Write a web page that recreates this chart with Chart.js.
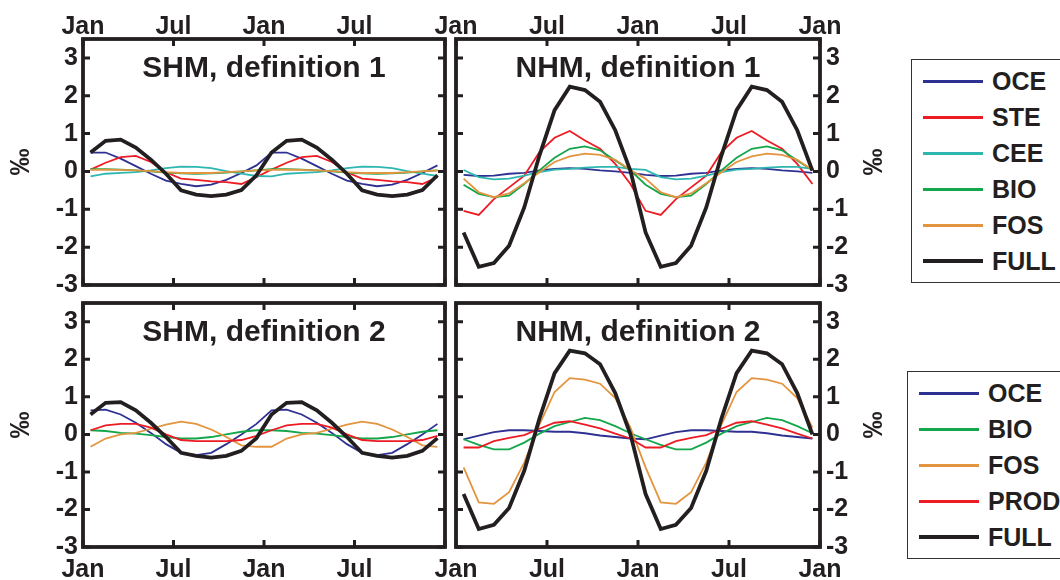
<!DOCTYPE html>
<html lang="en">
<head>
  <meta charset="UTF-8" />
  <title>Seasonal cycles, SHM / NHM</title>
  <script src="https://cdn.jsdelivr.net/npm/chart.js"></script>
  <style>
    body {
      margin: 0;
      width: 1060px;
      height: 580px;
      overflow: hidden;
      background: #fff;
      position: relative;
      font-family: "Liberation Sans", Arial, sans-serif;
    }
    .panel { position: absolute; }
    .legend {
      position: absolute;
      border: 1.5px solid #333;
      background: #fff;
    }
    .legend .row {
      position: absolute;
      left: 0;
      height: 36px;
      display: flex;
      align-items: center;
      white-space: nowrap;
    }
    .legend .swatch { width: 60px; margin-left: 11px; }
    .legend .name {
      margin-left: 9px;
      font-size: 25px;
      font-weight: bold;
      color: #231f20;
    }
  </style>
</head>
<body>
  <div class="panel" style="left:0;top:0"><canvas id="shm1" width="470" height="292"></canvas></div>
  <div class="panel" style="left:400px;top:0"><canvas id="nhm1" width="490" height="292"></canvas></div>
  <div class="panel" style="left:0;top:295px"><canvas id="shm2" width="470" height="285"></canvas></div>
  <div class="panel" style="left:400px;top:295px"><canvas id="nhm2" width="490" height="285"></canvas></div>
  <div class="legend" id="legend1" style="left:911px;top:59px;width:170px;height:222px"></div>
  <div class="legend" id="legend2" style="left:907px;top:371px;width:170px;height:186px"></div>

  <script>
    // monthly values (per mille), one climatological year, shown twice
    const months = ['Jan','Feb','Mar','Apr','May','Jun','Jul','Aug','Sep','Oct','Nov','Dec'];
    const monthTicks = [0, 6, 12, 18, 24];
    const leftTickLabels = ['Jan', 'Jul', 'Jan', 'Jul', ''];
    const rightTickLabels = ['Jan', 'Jul', 'Jan', 'Jul', 'Jan'];
    const yTicks = [-3, -2, -1, 0, 1, 2, 3];

    const names1 = ['OCE', 'STE', 'CEE', 'BIO', 'FOS', 'FULL'];
    const names2 = ['OCE', 'BIO', 'FOS', 'PROD', 'FULL'];

    // SHM, definition 1
    const shm1Oce  = [0.50, 0.50, 0.34, 0.14, -0.06, -0.24, -0.33, -0.39, -0.35, -0.22, -0.04, 0.16];
    const shm1Ste  = [0.05, 0.23, 0.38, 0.41, 0.25, -0.02, -0.19, -0.22, -0.26, -0.28, -0.33, -0.15];
    const shm1Cee  = [-0.13, -0.06, -0.04, -0.02, 0.03, 0.09, 0.13, 0.12, 0.09, 0.01, -0.06, -0.12];
    const shm1Bio  = [0.06, 0.06, 0.05, 0.03, 0.00, -0.03, -0.05, -0.06, -0.05, -0.03, 0.00, 0.03];
    const shm1Fos  = [0.04, 0.05, 0.04, 0.03, 0.01, -0.02, -0.04, -0.04, -0.04, -0.02, 0.00, 0.03];
    const shm1Full = [0.50, 0.81, 0.84, 0.63, 0.31, -0.06, -0.50, -0.61, -0.65, -0.61, -0.49, -0.10];

    // NHM, definition 1
    const nhm1Oce  = [-0.09, -0.12, -0.11, -0.06, -0.04, 0.03, 0.07, 0.09, 0.07, 0.03, 0.00, -0.04];
    const nhm1Ste  = [-1.04, -1.15, -0.73, -0.42, -0.11, 0.51, 0.89, 1.07, 0.82, 0.60, 0.20, -0.33];
    const nhm1Cee  = [0.04, -0.15, -0.21, -0.19, -0.11, -0.02, 0.05, 0.07, 0.10, 0.12, 0.12, 0.07];
    const nhm1Bio  = [-0.35, -0.59, -0.68, -0.64, -0.33, 0.03, 0.36, 0.60, 0.66, 0.56, 0.29, 0.03];
    const nhm1Fos  = [-0.19, -0.55, -0.68, -0.58, -0.31, -0.02, 0.25, 0.40, 0.47, 0.44, 0.31, 0.04];
    const nhm1Full = [-1.61, -2.52, -2.42, -1.96, -0.95, 0.42, 1.62, 2.24, 2.15, 1.84, 1.09, 0.02];

    // SHM, definition 2
    const shm2Oce  = [0.64, 0.66, 0.53, 0.31, 0.04, -0.26, -0.49, -0.55, -0.49, -0.26, 0.00, 0.28];
    const shm2Bio  = [0.11, 0.09, 0.04, 0.02, -0.02, -0.07, -0.11, -0.11, -0.07, 0.00, 0.07, 0.11];
    const shm2Fos  = [-0.33, -0.11, 0.00, 0.04, 0.15, 0.26, 0.34, 0.28, 0.13, -0.07, -0.29, -0.33];
    const shm2Prod = [0.11, 0.24, 0.28, 0.28, 0.18, 0.00, -0.15, -0.18, -0.18, -0.18, -0.15, -0.04];
    const shm2Full = [0.53, 0.84, 0.86, 0.64, 0.31, -0.07, -0.49, -0.57, -0.62, -0.57, -0.44, -0.10];

    // NHM, definition 2
    const nhm2Oce  = [-0.13, -0.03, 0.06, 0.11, 0.11, 0.09, 0.07, 0.07, 0.03, -0.03, -0.07, -0.11];
    const nhm2Bio  = [-0.13, -0.28, -0.40, -0.40, -0.22, 0.02, 0.22, 0.33, 0.44, 0.38, 0.22, 0.03];
    const nhm2Fos  = [-0.88, -1.81, -1.85, -1.54, -0.75, 0.26, 1.13, 1.50, 1.46, 1.35, 0.97, 0.18];
    const nhm2Prod = [-0.35, -0.35, -0.18, -0.09, -0.02, 0.15, 0.31, 0.35, 0.26, 0.16, 0.02, -0.11];
    const nhm2Full = [-1.59, -2.52, -2.41, -1.96, -0.97, 0.42, 1.63, 2.23, 2.16, 1.87, 1.10, 0.00];

    const colors = {
      OCE: '#2e3192', STE: '#ed1c24', PROD: '#ed1c24', CEE: '#2db7b0',
      BIO: '#14a64a', FOS: '#e3943f', FULL: '#231f20'
    };
    const ink = '#231f20';
    const fontFamily = '"Liberation Sans", Arial, sans-serif';

    // mid-month points over two years
    function toPoints(vals) {
      const pts = [];
      for (let yr = 0; yr < 2; yr++) {
        months.forEach((m, i) => pts.push({ x: yr * 12 + i + 0.5, y: vals[i] }));
      }
      return pts;
    }

    const framePlugin = {
      id: 'frame',
      afterDraw(chart, args, opts) {
        const { ctx, chartArea: a } = chart;
        const x = chart.scales.x, y = chart.scales.y;
        ctx.save();
        ctx.strokeStyle = ink;
        ctx.lineWidth = 3.8;
        ctx.strokeRect(a.left, a.top, a.right - a.left, a.bottom - a.top);
        ctx.lineWidth = 3;
        ctx.beginPath();
        monthTicks.forEach(v => {
          const px = x.getPixelForValue(v);
          ctx.moveTo(px, a.top); ctx.lineTo(px, a.top + 7);
          ctx.moveTo(px, a.bottom); ctx.lineTo(px, a.bottom - 7);
        });
        yTicks.forEach(v => {
          const py = y.getPixelForValue(v);
          ctx.moveTo(a.left, py); ctx.lineTo(a.left + 7, py);
          ctx.moveTo(a.right, py); ctx.lineTo(a.right - 7, py);
        });
        ctx.stroke();

        ctx.fillStyle = ink;
        ctx.font = 'bold 30px ' + fontFamily;
        ctx.textAlign = 'center';
        ctx.textBaseline = 'alphabetic';
        ctx.fillText(opts.title, (a.left + a.right) / 2, a.top + 38);

        ctx.translate(opts.unitX, (a.top + a.bottom) / 2);
        ctx.rotate(-Math.PI / 2);
        ctx.font = 'bold 27px ' + fontFamily;
        ctx.textBaseline = 'middle';
        ctx.fillText('‰', 0, 0);
        ctx.restore();
      }
    };

    const panels = [
      { id: 'shm1', title: 'SHM, definition 1', names: names1,
        series: [shm1Oce, shm1Ste, shm1Cee, shm1Bio, shm1Fos, shm1Full],
        xPos: 'top', yPos: 'left', labels: leftTickLabels,
        pad: { left: 0, right: 25, top: 0, bottom: 7 }, unitX: 22 },
      { id: 'nhm1', title: 'NHM, definition 1', names: names1,
        series: [nhm1Oce, nhm1Ste, nhm1Cee, nhm1Bio, nhm1Fos, nhm1Full],
        xPos: 'top', yPos: 'right', labels: rightTickLabels,
        pad: { left: 56, right: 0, top: 0, bottom: 7 }, unitX: 475 },
      { id: 'shm2', title: 'SHM, definition 2', names: names2,
        series: [shm2Oce, shm2Bio, shm2Fos, shm2Prod, shm2Full],
        xPos: 'bottom', yPos: 'left', labels: leftTickLabels,
        pad: { left: 0, right: 25, top: 8, bottom: 0 }, unitX: 22 },
      { id: 'nhm2', title: 'NHM, definition 2', names: names2,
        series: [nhm2Oce, nhm2Bio, nhm2Fos, nhm2Prod, nhm2Full],
        xPos: 'bottom', yPos: 'right', labels: rightTickLabels,
        pad: { left: 56, right: 0, top: 8, bottom: 0 }, unitX: 475 }
    ];

    const tickFont = { family: fontFamily, size: 25, weight: 'bold' };

    panels.forEach(p => {
      const ctx = document.getElementById(p.id).getContext('2d');
      new Chart(ctx, {
        type: 'line',
        data: {
          datasets: p.names.map((n, i) => ({
            label: n,
            data: toPoints(p.series[i]),
            borderColor: colors[n],
            borderWidth: n === 'FULL' ? 3.8 : 1.8,
            pointRadius: 0,
            tension: 0,
            fill: false,
            order: p.names.length - i
          }))
        },
        options: {
          responsive: false,
          animation: false,
          devicePixelRatio: 1,
          events: [],
          layout: { padding: p.pad },
          plugins: {
            legend: { display: false },
            tooltip: { enabled: false },
            frame: { title: p.title, unitX: p.unitX }
          },
          scales: {
            x: {
              type: 'linear',
              position: p.xPos,
              min: 0,
              max: 24,
              afterBuildTicks: s => { s.ticks = monthTicks.map(v => ({ value: v })); },
              afterFit: s => {
                s.height = p.xPos === 'top' ? 39 : 33;
                s.paddingLeft = 0; s.paddingRight = 0;
              },
              grid: { display: false, drawTicks: false },
              border: { display: false },
              ticks: {
                autoSkip: false,
                maxRotation: 0,
                padding: p.xPos === 'top' ? -3 : 8,
                color: ink,
                font: tickFont,
                callback: (v, i) => p.labels[i]
              }
            },
            y: {
              type: 'linear',
              position: p.yPos,
              min: -3,
              max: 3.5,
              afterBuildTicks: s => { s.ticks = yTicks.map(v => ({ value: v })); },
              afterFit: s => {
                s.width = p.yPos === 'left' ? 83 : 70;
                s.paddingTop = 0; s.paddingBottom = 0;
              },
              grid: { display: false, drawTicks: false },
              border: { display: false },
              ticks: {
                padding: p.yPos === 'left' ? 5 : 6,
                color: ink,
                font: tickFont
              }
            }
          }
        },
        plugins: [framePlugin]
      });
    });

    function buildLegend(elId, names) {
      const box = document.getElementById(elId);
      names.forEach((n, i) => {
        const row = document.createElement('div');
        row.className = 'row';
        row.style.top = (3 + i * 36) + 'px';
        const sw = document.createElement('div');
        sw.className = 'swatch';
        sw.style.height = (n === 'FULL' ? 4.5 : 3) + 'px';
        sw.style.background = colors[n];
        const label = document.createElement('span');
        label.className = 'name';
        label.textContent = n;
        row.appendChild(sw);
        row.appendChild(label);
        box.appendChild(row);
      });
    }
    buildLegend('legend1', names1);
    buildLegend('legend2', names2);
  </script>
</body>
</html>
